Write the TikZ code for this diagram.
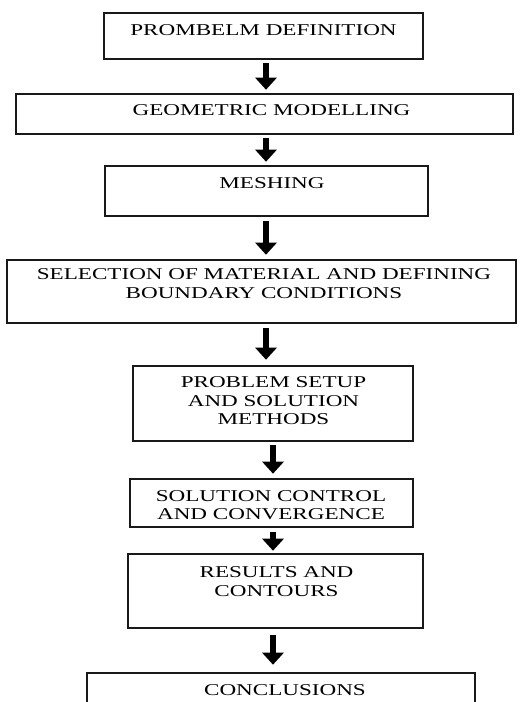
\documentclass[tikz,border=0pt]{standalone}
\usepackage{fontspec}
\setmainfont{Liberation Serif}[FakeStretch=1.4]
\usetikzlibrary{arrows.meta}
\begin{document}
\begin{tikzpicture}[x=1pt,y=-1pt,
  box/.style={draw=black!90,line width=2.6pt,inner sep=0pt},
  lbl/.style={font=\fontsize{16.5}{18.5}\selectfont,align=center,inner sep=0pt,text=black},
  flow/.style={line width=5.5pt,-{Triangle[width=21pt,length=12pt]}}]
\clip (0,0) rectangle (523,702);
\fill[white] (0,0) rectangle (523,702);
\coordinate (ax) at (266,0);
\coordinate (bx) at (273,0);
% boxes
\node[box,minimum width=319pt,minimum height=46pt] (b1) at (263.5,36) {};
\node[lbl] (t1) at (263.5,30) {PROMBELM DEFINITION};
\node[box,minimum width=497pt,minimum height=40pt] (b2) at (264.5,114) {};
\node[lbl] (t2) at (271.5,110) {GEOMETRIC MODELLING};
\node[box,minimum width=323pt,minimum height=50pt] (b3) at (266.5,191) {};
\node[lbl] (t3) at (272,183) {MESHING};
\node[box,minimum width=509pt,minimum height=63pt] (b4) at (261.5,291.5) {};
\node[lbl] (t4) at (264,283.5) {SELECTION OF MATERIAL AND DEFINING\\BOUNDARY CONDITIONS};
\node[box,minimum width=280pt,minimum height=75pt] (b5) at (273,403.5) {};
\node[lbl] (t5) at (273.5,401) {PROBLEM SETUP\\AND SOLUTION\\METHODS};
\node[box,minimum width=283pt,minimum height=48pt] (b6) at (271.5,503) {};
\node[lbl] (t6) at (271,505) {SOLUTION CONTROL\\AND CONVERGENCE};
\node[box,minimum width=295pt,minimum height=74pt] (b7) at (275.5,591) {};
\node[lbl] (t7) at (276.5,581.5) {RESULTS AND\\CONTOURS};
\node[box,minimum width=388pt,minimum height=56pt] (b8) at (281,701) {};
\node[lbl] (t8) at (285,690) {CONCLUSIONS};
% arrows
\draw[flow] ([yshift=-3pt]b1.south -| ax) -- ([yshift=3pt]b2.north -| ax);
\draw[flow] ([yshift=-3pt]b2.south -| ax) -- ([yshift=3pt]b3.north -| ax);
\draw[flow] ([yshift=-4pt]b3.south -| ax) -- ([yshift=4pt]b4.north -| ax);
\draw[flow] ([yshift=-4pt]b4.south -| ax) -- ([yshift=5pt]b5.north -| ax);
\draw[flow] ([yshift=-3pt]b5.south -| bx) -- ([yshift=4pt]b6.north -| bx);
\draw[flow] ([yshift=-4pt]b6.south -| bx) -- ([yshift=2pt]b7.north -| bx);
\draw[flow] ([yshift=-6pt]b7.south -| bx) -- ([yshift=7pt]b8.north -| bx);
\end{tikzpicture}
\end{document}
